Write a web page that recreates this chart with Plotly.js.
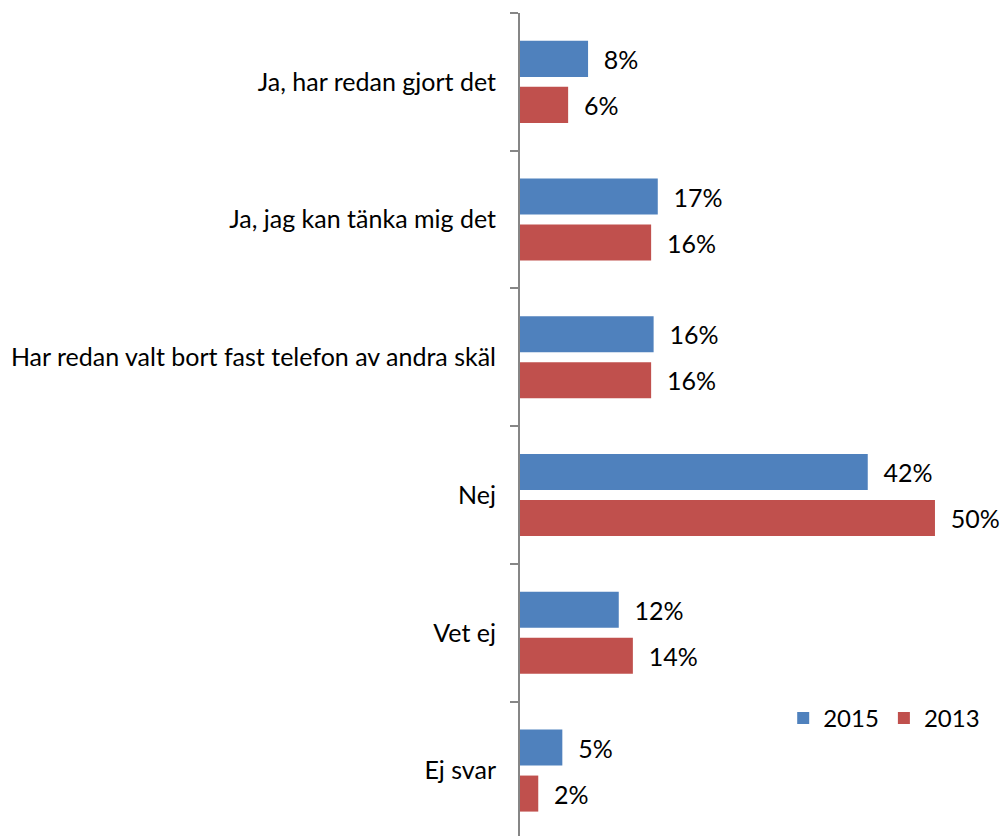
<!DOCTYPE html>
<html>
<head>
<meta charset="utf-8">
<script src="https://cdn.plot.ly/plotly-3.0.1.min.js"></script>
<style>html,body{margin:0;padding:0;background:#fff;}#chart{width:1001px;height:836px;}</style>
</head>
<body>
<div id="chart"></div>
<script>
const categories = ["Ja, har redan gjort det", "Ja, jag kan tänka mig det", "Har redan valt bort fast telefon av andra skäl", "Nej", "Vet ej", "Ej svar"];
const values2015 = [8.2, 16.6, 16.1, 41.9, 11.9, 5.1];
const values2013 = [5.8, 15.8, 15.8, 50.0, 13.6, 2.2];
const seriesNames = ["2015", "2013"];

const FONT = "Lato, 'Open Sans', sans-serif";
const FS = 25;
const pad = "\u00a0\u00a0";

const traces = [
  {type: "bar", orientation: "h", name: seriesNames[0], y: categories, x: values2015,
   marker: {color: "#4F81BD"}, texttemplate: pad + "%{x:.0f}%", textposition: "outside",
   cliponaxis: false, textfont: {family: FONT, size: FS, color: "#000"}, hoverinfo: "x+y"},
  {type: "bar", orientation: "h", name: seriesNames[1], y: categories, x: values2013,
   marker: {color: "#C0504D"}, texttemplate: pad + "%{x:.0f}%", textposition: "outside",
   cliponaxis: false, textfont: {family: FONT, size: FS, color: "#000"}, hoverinfo: "x+y"}
];

const layout = {
  width: 1001, height: 836,
  margin: {l: 520, r: 11, t: 13, b: 0, pad: 0},
  paper_bgcolor: "#fff", plot_bgcolor: "#fff",
  font: {family: FONT, size: FS, color: "#000"},
  barmode: "group", bargap: 0.332, bargroupgap: 0.217,
  showlegend: true,
  legend: {orientation: "h", x: 0.56, xanchor: "left", y: 0.143, yanchor: "middle",
           font: {family: FONT, size: 24, color: "#000"}, bgcolor: "rgba(0,0,0,0)", traceorder: "normal"},
  xaxis: {range: [0, 56.63], showgrid: false, zeroline: false, showticklabels: false, showline: false, ticks: "", fixedrange: true},
  yaxis: {type: "category", range: [5.475, -0.5], autorange: false, showgrid: false, zeroline: false,
          showline: true, linecolor: "#868686", linewidth: 2,
          ticks: "outside", tickson: "boundaries", ticklen: 8, tickwidth: 2, tickcolor: "#868686",
          ticklabelstandoff: 17, tickfont: {family: FONT, size: FS, color: "#000"}, fixedrange: true}
};

Plotly.newPlot("chart", traces, layout, {displayModeBar: false, staticPlot: true});
</script>
</body>
</html>
